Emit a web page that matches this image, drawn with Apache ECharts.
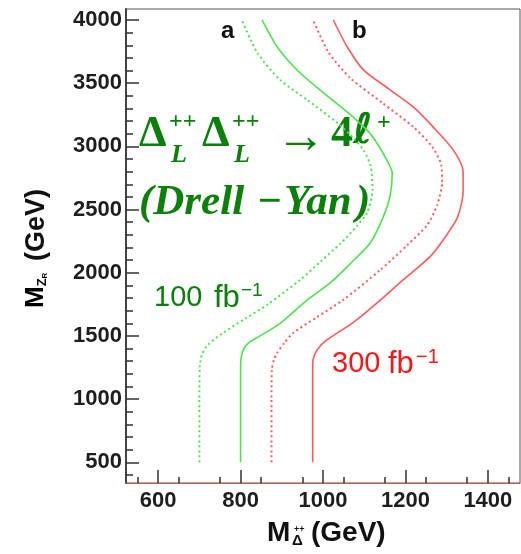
<!DOCTYPE html>
<html>
<head>
<meta charset="utf-8">
<script src="https://cdn.jsdelivr.net/npm/echarts@6/dist/echarts.min.js"></script>
<style>
  html, body { margin: 0; padding: 0; background: #fff; }
  #chart { width: 521px; height: 554px; }
</style>
</head>
<body>
<div id="chart"></div>
<script>
// Discovery contours in the (M_Delta++, M_ZR) plane, [M_Delta (GeV), M_ZR (GeV)]
const dotted100 = [[700,500],[700,1000],[701,1255],[706,1350],[721,1430],[758,1525],[811,1636],[865,1747],[945,1945],[994,2088],[1042,2230],[1083,2372],[1108,2481],[1120,2655],[1116,2840],[1098,2972],[1066,3091],[1035,3186],[962,3367],[896,3526],[841,3739],[803,4000]];
const solid100  = [[800,500],[800,1000],[800,1250],[802,1340],[810,1410],[824,1456],[840,1486],[896,1600],[957,1771],[1018,1921],[1066,2071],[1115,2237],[1146,2440],[1163,2613],[1168,2788],[1150,2920],[1126,3050],[1107,3128],[1059,3271],[993,3445],[937,3604],[889,3786],[852,4000]];
const dotted300 = [[875,500],[875,1000],[876,1233],[881,1312],[889,1366],[906,1445],[928,1524],[986,1650],[1049,1785],[1139,2022],[1205,2220],[1253,2378],[1277,2536],[1289,2718],[1287,2853],[1265,2996],[1219,3154],[1144,3344],[1066,3541],[1013,3747],[976,4000]];
const solid300  = [[975,500],[975,1000],[975,1233],[976,1312],[986,1391],[1010,1470],[1073,1605],[1132,1763],[1195,1945],[1260,2127],[1292,2261],[1326,2436],[1340,2640],[1340,2798],[1316,2972],[1267,3154],[1219,3312],[1163,3447],[1098,3605],[1059,3786],[1025,4000]];

// Axis ranges and tick labels
const xRange = [522, 1478];
const yRange = [336, 4087];
const xMajor = [600, 800, 1000, 1200, 1400];
const yMajor = [500, 1000, 1500, 2000, 2500, 3000, 3500, 4000];

// minor ticks: every 50 GeV on x, every 100 GeV on y
const xMinor = [];
for (let v = 550; v < xRange[1]; v += 100) xMinor.push(v);
const yMinor = [];
for (let v = 400; v < yRange[1]; v += 100) if (v % 500 !== 0) yMinor.push(v);

const GREEN = '#4fe24f';
const RED = '#ff5a5a';
const TEXT_GREEN = '#0a800a';
const TEXT_RED = '#f01818';
const AXIS = '#333';
const SANS = '"Liberation Sans", Arial, sans-serif';
const SERIF = '"Liberation Serif", "Times New Roman", serif';
const DSANS = '"DejaVu Sans", sans-serif';

const chart = echarts.init(document.getElementById('chart'), null, { renderer: 'canvas' });

const tickLabel = { fontFamily: SANS, fontWeight: 'bold', fontSize: 22, color: '#1e1e1e', formatter: v => String(v) };

function txt(x, y, text, font, fill, extra) {
  return Object.assign({ type: 'text', x: x, y: y,
    style: { text: text, font: font, fill: fill, verticalAlign: 'middle' } }, extra || {});
}

const option = {
  animation: false,
  backgroundColor: '#fff',
  grid: {
    left: 126, right: 1, top: 9, bottom: 71,
    show: true, borderColor: '#555', borderWidth: 1, backgroundColor: 'transparent'
  },
  xAxis: [
    {
      type: 'value', min: xRange[0], max: xRange[1], position: 'bottom',
      axisLine: { show: true, lineStyle: { color: '#c55', width: 1.2 } },
      axisTick: { show: true, inside: true, length: 13, customValues: xMajor, lineStyle: { color: AXIS, width: 1.5 } },
      axisLabel: Object.assign({ customValues: xMajor, margin: 7 }, tickLabel),
      splitLine: { show: false }
    },
    {
      type: 'value', min: xRange[0], max: xRange[1], position: 'bottom', offset: 0,
      axisLine: { show: false },
      axisTick: { show: true, inside: true, length: 6, customValues: xMinor, lineStyle: { color: AXIS, width: 1.5 } },
      axisLabel: { show: false },
      splitLine: { show: false }
    }
  ],
  yAxis: [
    {
      type: 'value', min: yRange[0], max: yRange[1], position: 'left',
      axisLine: { show: true, lineStyle: { color: '#444', width: 2 } },
      axisTick: { show: true, inside: true, length: 13, customValues: yMajor, lineStyle: { color: AXIS, width: 1.5 } },
      axisLabel: Object.assign({ customValues: yMajor, margin: 4 }, tickLabel),
      splitLine: { show: false }
    },
    {
      type: 'value', min: yRange[0], max: yRange[1], position: 'left', offset: 0,
      axisLine: { show: false },
      axisTick: { show: true, inside: true, length: 7, customValues: yMinor, lineStyle: { color: AXIS, width: 1.5 } },
      axisLabel: { show: false },
      splitLine: { show: false }
    }
  ],
  series: [
    { name: '100 dotted', type: 'line', data: dotted100, smooth: 0.25, symbol: 'none',
      lineStyle: { color: GREEN, width: 2, type: [2, 3] } },
    { name: '100 solid', type: 'line', data: solid100, smooth: 0.25, symbol: 'none',
      lineStyle: { color: GREEN, width: 1.6 } },
    { name: '300 dotted', type: 'line', data: dotted300, smooth: 0.25, symbol: 'none',
      lineStyle: { color: RED, width: 2, type: [2, 3] } },
    { name: '300 solid', type: 'line', data: solid300, smooth: 0.25, symbol: 'none',
      lineStyle: { color: RED, width: 1.6 } }
  ],
  graphic: [
    // panel letters
    { type: 'text', left: 221, top: 19, style: { text: 'a', font: 'bold 24px ' + SANS, fill: '#111' } },
    { type: 'text', left: 352, top: 19, style: { text: 'b', font: 'bold 24px ' + SANS, fill: '#111' } },

    // process formula: Δ_L^{++} Δ_L^{++} → 4ℓ^+
    txt(139, 135, 'Δ', 'bold 44px ' + SERIF, TEXT_GREEN),
    txt(169, 122, '++', 'bold 24px ' + SERIF, TEXT_GREEN),
    txt(171, 155, 'L', 'italic bold 26px ' + SERIF, TEXT_GREEN),
    txt(202, 135, 'Δ', 'bold 44px ' + SERIF, TEXT_GREEN),
    txt(232, 122, '++', 'bold 24px ' + SERIF, TEXT_GREEN),
    txt(234, 155, 'L', 'italic bold 26px ' + SERIF, TEXT_GREEN),
    txt(276, 139, '→', 'bold 50px ' + SERIF, TEXT_GREEN),
    txt(331, 135, '4', 'bold 44px ' + SERIF, TEXT_GREEN),
    txt(353, 132, 'ℓ', 'italic bold 42px ' + DSANS, TEXT_GREEN),
    txt(377, 123, '+', 'bold 24px ' + SERIF, TEXT_GREEN),

    // (Drell − Yan)
    txt(139, 203, '(Drell', 'italic bold 43px ' + SERIF, TEXT_GREEN),
    txt(258, 203, '−', 'bold 42px ' + SERIF, TEXT_GREEN),
    txt(284, 203, 'Yan', 'italic bold 43px ' + SERIF, TEXT_GREEN),
    txt(356, 203, ')', 'italic bold 43px ' + SERIF, TEXT_GREEN),

    // luminosity labels
    txt(154, 298, '100', '29px ' + SANS, TEXT_GREEN),
    txt(214, 298, 'fb', '31px ' + SANS, TEXT_GREEN),
    txt(241, 291, '−1', '19px ' + SANS, TEXT_GREEN),
    txt(332, 364, '300', '29px ' + SANS, TEXT_RED),
    txt(388, 364, 'fb', '31px ' + SANS, TEXT_RED),
    txt(416, 357, '−1', '20px ' + SANS, TEXT_RED),

    // x-axis title: M_{Δ++} (GeV)
    txt(267, 533, 'M', 'bold 28px ' + SANS, '#111'),
    txt(292, 541, 'Δ', 'bold 15px ' + SANS, '#111'),
    txt(294, 530, '++', 'bold 9px ' + SANS, '#111'),
    txt(311, 533, '(GeV)', 'bold 28px ' + SANS, '#111'),

    // y-axis title (rotated): M_{Z_R} (GeV)
    { type: 'text', x: 36, y: 308, rotation: Math.PI / 2, style: {
        text: '{m|M}{z|Z}{r|R}', verticalAlign: 'middle',
        rich: { m: { font: 'bold 26px ' + SANS, color: '#111' },
                z: { font: 'bold 13px ' + SANS, color: '#111', verticalAlign: 'bottom' },
                r: { font: 'bold 8px ' + SANS, color: '#111', verticalAlign: 'bottom' } } } },
    { type: 'text', x: 37, y: 261, rotation: Math.PI / 2,
      style: { text: '(GeV)', font: 'bold 27px ' + SANS, fill: '#111', verticalAlign: 'middle' } }
  ]
};

chart.setOption(option);
</script>
</body>
</html>
